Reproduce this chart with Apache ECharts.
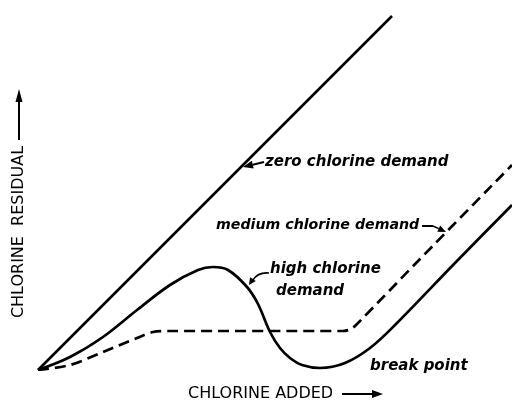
<!DOCTYPE html>
<html>
<head>
<meta charset="utf-8">
<script src="https://cdn.jsdelivr.net/npm/echarts@6/dist/echarts.min.js"></script>
<style>
  html, body { margin: 0; padding: 0; background: #fff; }
  #chart { width: 512px; height: 402px; }
</style>
</head>
<body>
<div id="chart"></div>
<script>
// Chlorine breakpoint curves (schematic units: chlorine added vs. residual)
const zeroDemand = [[0, 0], [35.4, 35.4]];

const mediumDemand = [
  [0, 0], [3.2, 0.5], [6.5, 1.8], [9.9, 3.2], [11.5, 3.8], [13.0, 3.9],
  [30.5, 3.9], [31.3, 4.1], [32.0, 4.7], [38.2, 11.1], [47.4, 20.5]
];

const highDemand = [
  [0, 0], [3.2, 1.3], [6.5, 3.3], [9.9, 6.0], [13.2, 8.5], [16.0, 10.0],
  [17.5, 10.3], [19.0, 10.0], [20.9, 8.3], [22.0, 6.6], [23.2, 3.8],
  [24.2, 2.2], [25.2, 1.2], [26.4, 0.5], [28.2, 0.2], [30.7, 0.7],
  [33.2, 2.2], [35.7, 4.5], [41.7, 10.7], [47.4, 16.5]
];

const xTitle = 'CHLORINE ADDED';
const yTitle = 'CHLORINE  RESIDUAL';
const noteZero = 'zero chlorine demand';
const noteMedium = 'medium chlorine demand';
const noteHigh = ['high chlorine', 'demand'];
const noteBreak = 'break point';

const ink = '#000';
const noteFont = { fontFamily: 'DejaVu Sans', fontStyle: 'italic', fontWeight: 'bold', fontSize: 15, fill: ink };
const capsFont = { fontFamily: 'DejaVu Sans', fontWeight: 'normal', fontSize: 16, fill: ink };

function note(text, x, y, font) {
  return { type: 'text', x: x, y: y, style: Object.assign({ text: text, verticalAlign: 'middle', align: 'left' }, font) };
}

// straight arrow shaft plus filled head at (x2, y2)
function arrow(x1, y1, x2, y2, headLen, headHalf, width) {
  const a = Math.atan2(y2 - y1, x2 - x1);
  const bx = x2 - headLen * Math.cos(a), by = y2 - headLen * Math.sin(a);
  const px = -Math.sin(a) * headHalf, py = Math.cos(a) * headHalf;
  return [
    { type: 'line', shape: { x1: x1, y1: y1, x2: bx, y2: by }, style: { stroke: ink, lineWidth: width } },
    { type: 'polygon', shape: { points: [[x2, y2], [bx + px, by + py], [bx - px, by - py]] }, style: { fill: ink } }
  ];
}

const chart = echarts.init(document.getElementById('chart'), null, { renderer: 'canvas' });

const graphics = [].concat(
  // axis titles with arrows
  [note(xTitle, 188, 394, capsFont)],
  arrow(342, 394, 383, 394, 11, 4, 2),
  [{
    type: 'text', x: 19, y: 232, rotation: Math.PI / 2,
    style: Object.assign({ text: yTitle, align: 'center', verticalAlign: 'middle' }, capsFont)
  }],
  arrow(19, 140, 19, 89, 13, 3.5, 2),
  // curve notes
  [note(noteZero, 265, 162, noteFont)],
  arrow(264, 162, 243, 167, 10, 4, 2),
  [note(noteMedium, 216, 225, Object.assign({}, noteFont, { fontSize: 14.2 }))],
  [{ type: 'polyline', shape: { points: [[422, 226], [433, 226]] }, style: { stroke: ink, lineWidth: 2 } }],
  arrow(433, 226, 446, 232, 8, 3.5, 1.6),
  [note(noteHigh[0], 270, 269, noteFont), note(noteHigh[1], 276, 291, noteFont)],
  [{ type: 'bezierCurve', shape: { x1: 269, y1: 273, cpx1: 258, cpy1: 272, x2: 253, y2: 280 }, style: { stroke: ink, lineWidth: 1.6, fill: null } }],
  arrow(253, 279, 249, 285, 7, 3.5, 1.6),
  [note(noteBreak, 370, 366, noteFont)]
);

chart.setOption({
  animation: false,
  backgroundColor: '#fff',
  grid: { left: 38, right: 0, top: 0, bottom: 32, containLabel: false },
  xAxis: { type: 'value', min: 0, max: 47.4, show: false },
  yAxis: { type: 'value', min: 0, max: 37, show: false },
  series: [
    {
      name: 'zero chlorine demand', type: 'line', data: zeroDemand, symbol: 'none',
      lineStyle: { color: ink, width: 2.6 }
    },
    {
      name: 'medium chlorine demand', type: 'line', data: mediumDemand, symbol: 'none', smooth: 0.3,
      lineStyle: { color: ink, width: 2.7, type: [11, 6] }
    },
    {
      name: 'high chlorine demand', type: 'line', data: highDemand, symbol: 'none', smooth: 0.35,
      lineStyle: { color: ink, width: 2.7 }
    }
  ],
  graphic: graphics
});
</script>
</body>
</html>
